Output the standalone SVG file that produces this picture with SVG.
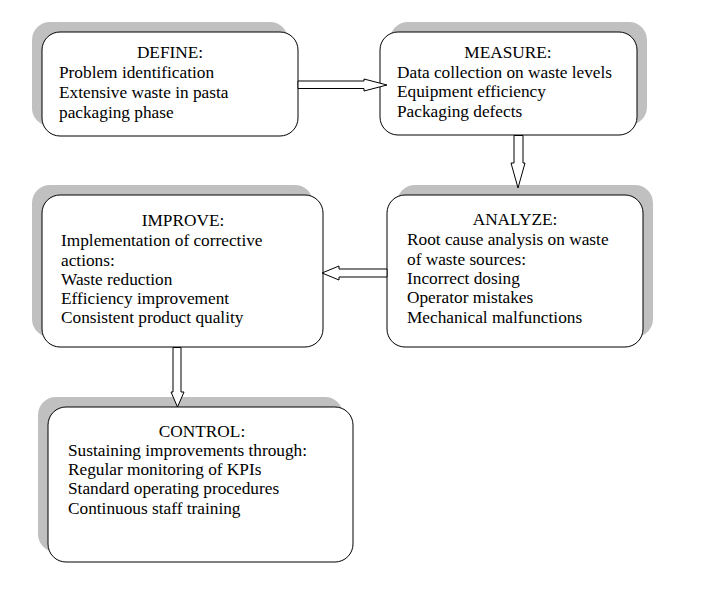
<svg xmlns="http://www.w3.org/2000/svg" width="709" height="593" viewBox="0 0 709 593">
<style>
.sh{fill:#c0c0c0;stroke:none}
.bx{fill:#ffffff;stroke:#000000;stroke-width:1}
.t{font-family:"Liberation Serif","Times New Roman",serif;font-size:17.3px;fill:#000000}
.h{text-anchor:middle}
.ar{fill:#ffffff;stroke:#000000;stroke-width:1;stroke-linejoin:miter}
</style>
<rect width="709" height="593" fill="#ffffff"/>
<g id="define">
<rect class="sh" x="32" y="22" width="256" height="104" rx="18"/>
<rect class="bx" x="42" y="32" width="256" height="104" rx="18"/>
<text class="t h" x="170" y="58">DEFINE:</text>
<text class="t" x="59" y="78">Problem identification</text>
<text class="t" x="59" y="98">Extensive waste in pasta</text>
<text class="t" x="59" y="118">packaging phase</text>
</g>
<g id="measure">
<rect class="sh" x="390" y="22" width="257" height="103" rx="18"/>
<rect class="bx" x="380" y="32" width="257" height="103" rx="18"/>
<text class="t h" x="508" y="58">MEASURE:</text>
<text class="t" x="397" y="78">Data collection on waste levels</text>
<text class="t" x="397" y="97">Equipment efficiency</text>
<text class="t" x="397" y="117">Packaging defects</text>
</g>
<g id="analyze">
<rect class="sh" x="397" y="185" width="256" height="152" rx="18"/>
<rect class="bx" x="387" y="195" width="256" height="152" rx="18"/>
<text class="t h" x="515" y="225">ANALYZE:</text>
<text class="t" x="407" y="245">Root cause analysis on waste</text>
<text class="t" x="407" y="265">of waste sources:</text>
<text class="t" x="407" y="284">Incorrect dosing</text>
<text class="t" x="407" y="303">Operator mistakes</text>
<text class="t" x="407" y="323">Mechanical malfunctions</text>
</g>
<g id="improve">
<rect class="sh" x="32" y="185" width="281" height="152" rx="18"/>
<rect class="bx" x="42" y="195" width="281" height="152" rx="18"/>
<text class="t h" x="183" y="226">IMPROVE:</text>
<text class="t" x="61" y="246">Implementation of corrective</text>
<text class="t" x="61" y="266">actions:</text>
<text class="t" x="61" y="285">Waste reduction</text>
<text class="t" x="61" y="304">Efficiency improvement</text>
<text class="t" x="61" y="323">Consistent product quality</text>
</g>
<g id="control">
<rect class="sh" x="38" y="397" width="305" height="155" rx="18"/>
<rect class="bx" x="48" y="407" width="305" height="155" rx="18"/>
<text class="t h" x="202" y="437">CONTROL:</text>
<text class="t" x="68" y="456">Sustaining improvements through:</text>
<text class="t" x="68" y="475">Regular monitoring of KPIs</text>
<text class="t" x="68" y="494">Standard operating procedures</text>
<text class="t" x="68" y="514">Continuous staff training</text>
</g>
<g id="connectors">
<polygon class="ar" points="298,81 364,81 364,79 387,85 364,91 364,88.5 298,88.5"/>
<polygon class="ar" points="514,135.5 514,163 511,163 518,188 525,163 523,163 523,135.5"/>
<polygon class="ar" points="387,269 339,269 339,266 322,273 339,280 339,277 387,277"/>
<polygon class="ar" points="173,347.5 173,392 171,392 177.5,407 184,392 181,392 181,347.5"/>
</g>
</svg>
